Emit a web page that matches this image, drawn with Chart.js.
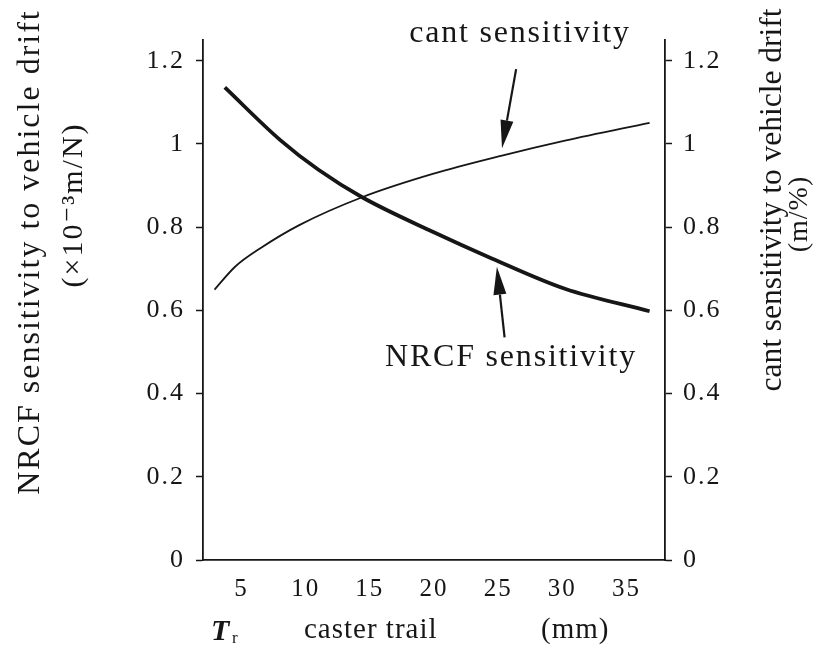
<!DOCTYPE html>
<html>
<head>
<meta charset="utf-8">
<script src="https://cdn.jsdelivr.net/npm/chart.js@4.4.0/dist/chart.umd.min.js"></script>
<style>
html, body { margin: 0; padding: 0; background: #fff; }
#wrap { width: 819px; height: 658px; }
</style>
</head>
<body>
<div id="wrap"><canvas id="chart"></canvas></div>
<script>
// caster trail (mm) and sensitivities
const nrcfTrail = [3.7, 8.0, 11.0, 14.4, 19.9, 24.5, 30.2, 36.8];
const nrcfValues = [1.136, 1.01, 0.938, 0.872, 0.789, 0.725, 0.652, 0.598];
const cantTrail = [2.9, 4.5, 6.5, 9.5, 14.4, 19.9, 25.3, 30.2, 36.8];
const cantValues = [0.65, 0.705, 0.75, 0.805, 0.872, 0.928, 0.972, 1.008, 1.051];
const xTickValues = [5, 10, 15, 20, 25, 30, 35];
const yTickValues = [0, 0.2, 0.4, 0.6, 0.8, 1, 1.2];
const yTickLabels = ['0', '0.2', '0.4', '0.6', '0.8', '1', '1.2'];

const serif = '"Liberation Serif", "DejaVu Serif", serif';
const ink = '#161616';

const toPoints = (xs, ys) => xs.map((x, i) => ({ x: x, y: ys[i] }));

function drawVertical(ctx, text, cx, cy, size, spacing) {
    ctx.save();
    ctx.translate(cx, cy);
    ctx.rotate(-Math.PI / 2);
    ctx.font = size + 'px ' + serif;
    ctx.letterSpacing = spacing + 'px';
    ctx.textAlign = 'center';
    ctx.textBaseline = 'middle';
    ctx.fillText(text, 0, 0);
    ctx.restore();
}

function drawArrow(ctx, x1, y1, x2, y2) {
    const ang = Math.atan2(y2 - y1, x2 - x1);
    const headLen = 28, headW = 6.5;
    const bx = x2 - headLen * Math.cos(ang), by = y2 - headLen * Math.sin(ang);
    ctx.beginPath();
    ctx.moveTo(x1, y1);
    ctx.lineTo(bx, by);
    ctx.lineWidth = 2.2;
    ctx.stroke();
    ctx.beginPath();
    ctx.moveTo(x2, y2);
    ctx.lineTo(bx + headW * Math.sin(ang), by - headW * Math.cos(ang));
    ctx.lineTo(bx - headW * Math.sin(ang), by + headW * Math.cos(ang));
    ctx.closePath();
    ctx.fill();
}

const figureText = {
    id: 'figureText',
    beforeDraw(chart) {
        // the scanned tick numbers are set rather loose
        chart.ctx.letterSpacing = '2px';
    },
    afterDraw(chart) {
        const { ctx, scales } = chart;
        const sx = scales.x, sy = scales.y;
        ctx.save();
        ctx.fillStyle = ink;
        ctx.strokeStyle = ink;

        // axis titles
        drawVertical(ctx, 'NRCF sensitivity to vehicle drift', 31, 252, 32, 2);
        drawVertical(ctx, '(×10⁻³m/N)', 74, 205, 30, 2);
        drawVertical(ctx, 'cant sensitivity to vehicle drift', 773, 200, 31.5, 0);
        drawVertical(ctx, '(m/%)', 800, 214, 28, 1);

        // x title
        ctx.textBaseline = 'alphabetic';
        ctx.textAlign = 'left';
        ctx.letterSpacing = '0px';
        ctx.font = 'italic bold 30px ' + serif;
        ctx.fillText('T', 211, 640);
        ctx.font = '17px ' + serif;
        ctx.fillText('r', 232, 643);
        ctx.font = '29px ' + serif;
        ctx.letterSpacing = '1px';
        ctx.fillText('caster trail', 304, 638);
        ctx.fillText('(mm)', 541, 638);

        // curve labels with arrows
        ctx.font = '32px ' + serif;
        ctx.letterSpacing = '1.8px';
        ctx.textAlign = 'center';
        ctx.textBaseline = 'middle';
        ctx.fillText('cant sensitivity', sx.getPixelForValue(26.7), sy.getPixelForValue(1.265));
        ctx.fillText('NRCF sensitivity', sx.getPixelForValue(26.0), sy.getPixelForValue(0.487));
        drawArrow(ctx, sx.getPixelForValue(26.4), sy.getPixelForValue(1.18),
                       sx.getPixelForValue(25.3), sy.getPixelForValue(0.99));
        drawArrow(ctx, sx.getPixelForValue(25.5), sy.getPixelForValue(0.535),
                       sx.getPixelForValue(24.9), sy.getPixelForValue(0.705));
        ctx.restore();
    }
};

const ctx = document.getElementById('chart').getContext('2d');

const yAxis = (position, width) => ({
    type: 'linear',
    position: position,
    min: 0,
    max: 1.25,
    afterBuildTicks: (scale) => { scale.ticks = yTickValues.map(v => ({ value: v })); },
    afterFit: (scale) => { scale.width = width; },
    ticks: {
        color: ink,
        font: { family: serif, size: 26 },
        padding: 11,
        callback: (value) => yTickLabels[yTickValues.indexOf(value)]
    },
    grid: { drawOnChartArea: false, tickLength: 7, tickColor: ink, tickWidth: 1.5 },
    border: { display: true, color: ink, width: 1.8 }
});

new Chart(ctx, {
    type: 'line',
    data: {
        datasets: [
            {
                label: 'NRCF sensitivity',
                data: toPoints(nrcfTrail, nrcfValues),
                borderColor: ink,
                borderWidth: 3.8,
                pointRadius: 0,
                cubicInterpolationMode: 'monotone',
                yAxisID: 'y'
            },
            {
                label: 'cant sensitivity',
                data: toPoints(cantTrail, cantValues),
                borderColor: ink,
                borderWidth: 1.8,
                pointRadius: 0,
                cubicInterpolationMode: 'monotone',
                yAxisID: 'y1'
            }
        ]
    },
    options: {
        responsive: true,
        maintainAspectRatio: false,
        animation: false,
        layout: { padding: { top: 40, left: 0, right: 0, bottom: 0 } },
        plugins: {
            legend: { display: false },
            tooltip: { enabled: false }
        },
        scales: {
            x: {
                type: 'linear',
                min: 2,
                max: 38,
                afterBuildTicks: (scale) => { scale.ticks = xTickValues.map(v => ({ value: v })); },
                afterFit: (scale) => { scale.height = 98; },
                ticks: {
                    color: ink,
                    font: { family: serif, size: 25 },
                    padding: 14,
                    maxRotation: 0
                },
                grid: { drawOnChartArea: false, drawTicks: false },
                border: { display: true, color: ink, width: 1.8 }
            },
            y: yAxis('left', 203),
            y1: yAxis('right', 154)
        }
    },
    plugins: [figureText]
});
</script>
</body>
</html>
